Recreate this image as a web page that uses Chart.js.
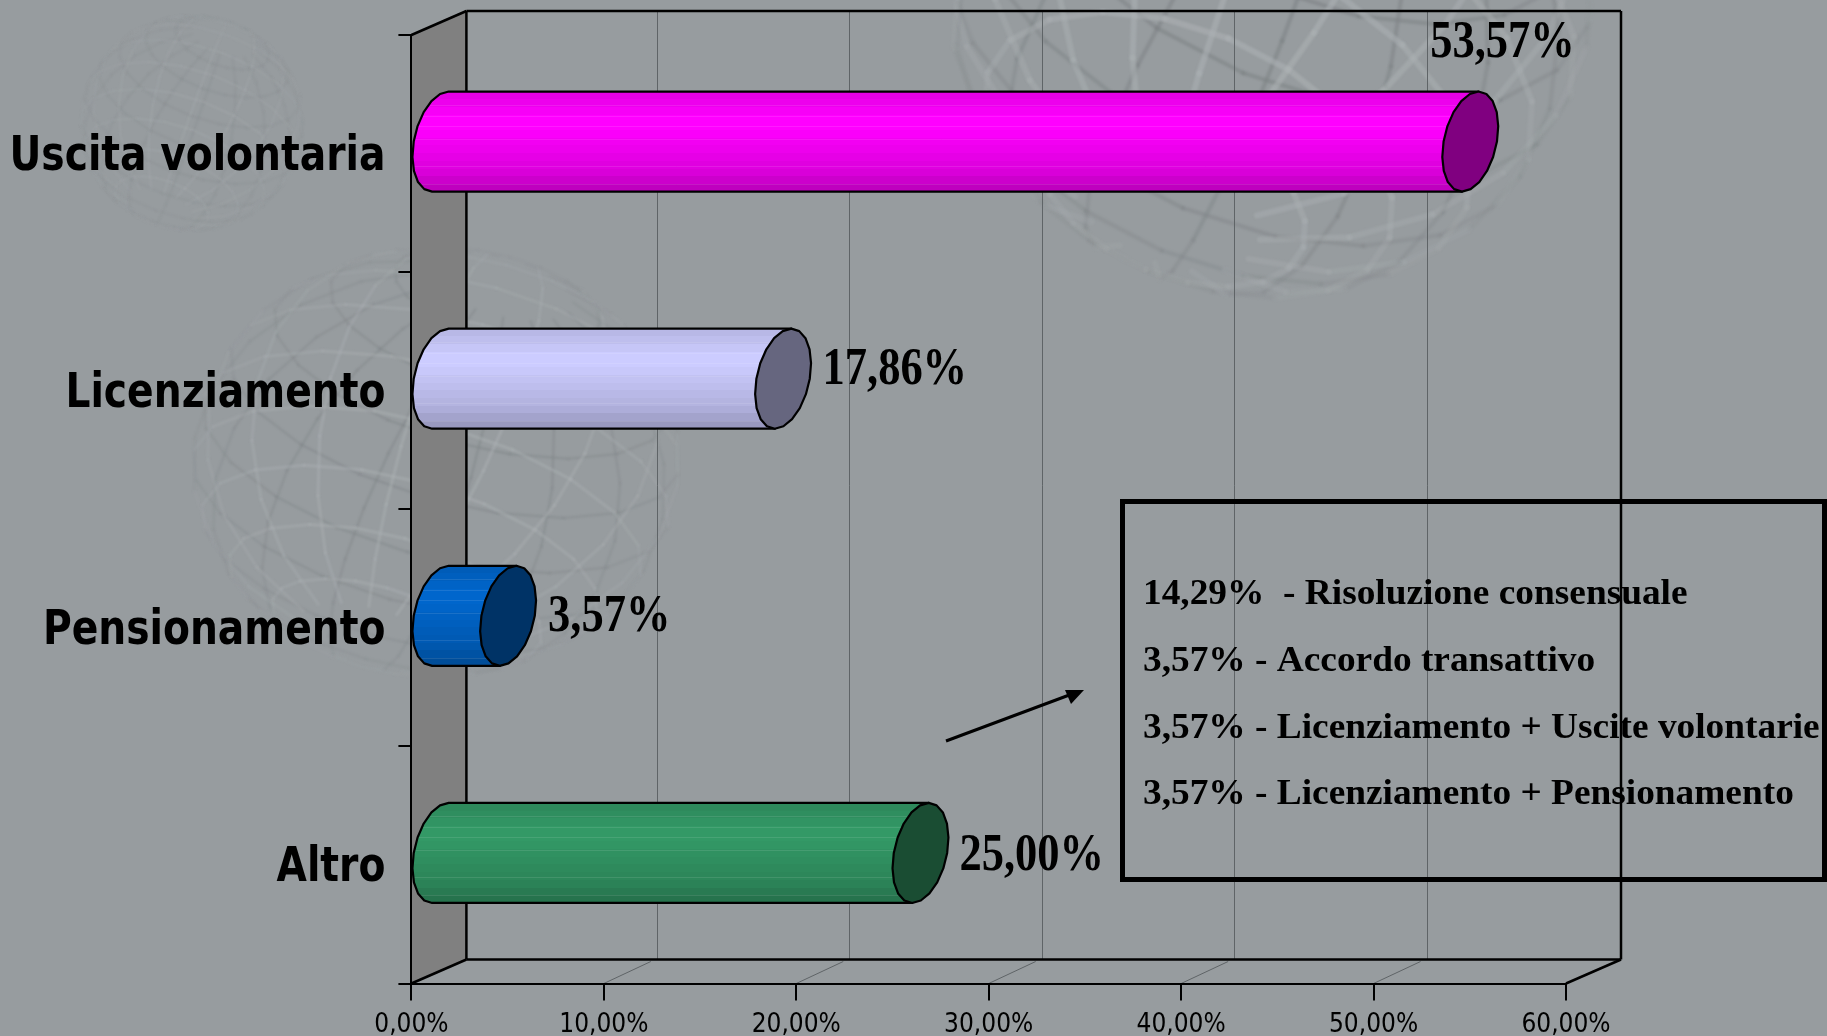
<!DOCTYPE html>
<html>
<head>
<meta charset="utf-8">
<title>Uscite</title>
<script src="https://cdn.jsdelivr.net/npm/chart.js@4/dist/chart.umd.min.js"></script>
<style>
  html, body { margin: 0; padding: 0; background: #979c9f; overflow: hidden; }
  canvas { display: block; }
</style>
</head>
<body>
<canvas id="canvas" width="1827" height="1036"></canvas>
<script>
"use strict";

var categories = ['Uscita volontaria', 'Licenziamento', 'Pensionamento', 'Altro'];
var values = [53.57, 17.86, 3.57, 25.00];
var bodyColors = ['#ff00ff', '#ccccff', '#0066cc', '#339966'];
var capColors = ['#800080', '#66667f', '#003366', '#1a4d33'];
var noteLines = [
  '14,29%  - Risoluzione consensuale',
  '3,57% - Accordo transattivo',
  '3,57% - Licenziamento + Uscite volontarie',
  '3,57% - Licenziamento + Pensionamento'
];

// label offset from the bar end (first one was moved by hand in the original)
var labelDx = [-12, 67.5, 68, 67];
var labelDy = [-85, 5, 15.5, 17.5];

// 3d box depth
var depthX = 55, depthY = 24;
var bands = [.9, .93, .97, 1, 1, .98, .95, .93, .9, .88, .85, .8, .75];
var shineLines = [.13, .24, .34, .47, .74, .92];

function shade(hex, m) {
  var n = parseInt(hex.slice(1), 16);
  return 'rgb(' + Math.round((n >> 16 & 255) * m) + ',' + Math.round((n >> 8 & 255) * m) + ',' + Math.round((n & 255) * m) + ')';
}

function line(ctx, x1, y1, x2, y2) {
  ctx.beginPath();
  ctx.moveTo(x1, y1);
  ctx.lineTo(x2, y2);
  ctx.stroke();
}

// faint wire globes of the slide background
function drawGlobe(ctx, cx, cy, rx, ry, tilt, spin, width, strength) {
  var rings = [];
  var i, k;
  for (i = -64; i <= 64; i += 16) {
    var ring = [];
    for (k = 0; k <= 360; k += 18) ring.push([i, k]);
    rings.push(ring);
  }
  for (k = 0; k < 360; k += 22.5) {
    var ring2 = [];
    for (i = -72; i <= 72; i += 16) ring2.push([i, k]);
    rings.push(ring2);
  }
  function project(lat, lon) {
    var la = lat * Math.PI / 180, lo = (lon + spin) * Math.PI / 180;
    var x = Math.cos(la) * Math.sin(lo), y = Math.sin(la), z = Math.cos(la) * Math.cos(lo);
    var c = Math.cos(tilt), s = Math.sin(tilt);
    var y2 = y * c - z * s, z2 = y * s + z * c;
    var x3 = x * Math.cos(tilt * .7) - y2 * Math.sin(tilt * .7);
    var y3 = x * Math.sin(tilt * .7) + y2 * Math.cos(tilt * .7);
    return { x: cx + rx * x3, y: cy + ry * y3, z: z2 };
  }
  ctx.save();
  ctx.filter = 'blur(0.8px)';
  ctx.lineCap = 'round';
  [-1, 1].forEach(function(side) {
    rings.forEach(function(ring) {
      for (var j = 1; j < ring.length; j++) {
        var a = project(ring[j - 1][0], ring[j - 1][1]);
        var b = project(ring[j][0], ring[j][1]);
        if ((a.z + b.z) * side < 0) continue;
        var edge = Math.abs(a.z + b.z) / 2;
        ctx.strokeStyle = side > 0 ? 'rgba(172,177,180,' + (.08 + edge * .45) * strength + ')' : 'rgba(125,130,133,' + (.1 + edge * .4) * strength + ')';
        ctx.lineWidth = side > 0 ? width : width * .7;
        line(ctx, a.x, a.y, b.x, b.y);
      }
    });
  });
  ctx.restore();
}

var backdrop = {
  id: 'backdrop',
  beforeDraw: function(chart) {
    var ctx = chart.ctx, area = chart.chartArea, xs = chart.scales.x;
    var l = area.left, r = area.right, t = area.top, b = area.bottom;

    ctx.save();
    ctx.fillStyle = '#979c9f';
    ctx.fillRect(0, 0, chart.width, chart.height);
    drawGlobe(ctx, 192, 123, 112, 108, .5, 20, 2, .6);
    drawGlobe(ctx, 436, 462, 244, 215, .45, 35, 3, 1);
    drawGlobe(ctx, 1270, -27, 325, 325, .6, 15, 6, 1.15);

    // side wall
    ctx.fillStyle = '#808080';
    ctx.beginPath();
    ctx.moveTo(l, t);
    ctx.lineTo(l + depthX, t - depthY);
    ctx.lineTo(l + depthX, b - depthY);
    ctx.lineTo(l, b);
    ctx.closePath();
    ctx.fill();

    // grid on back wall and floor
    ctx.strokeStyle = '#5f6467';
    ctx.lineWidth = 1;
    xs.ticks.forEach(function(tick, i) {
      if (i === 0 || i === xs.ticks.length - 1) return;
      var x = xs.getPixelForValue(tick.value);
      var gx = Math.round(x + 53) + .5;
      line(ctx, gx, t - depthY, gx, b - depthY);
      line(ctx, x, b, x + 47, b - depthY + 2);
    });

    // box outline
    ctx.strokeStyle = '#000';
    ctx.lineWidth = 2.5;
    line(ctx, l, t, l + depthX, t - depthY);
    line(ctx, l + depthX, t - depthY, r + depthX, t - depthY);
    line(ctx, l + depthX, t - depthY, l + depthX, b - depthY);
    line(ctx, r + depthX, t - depthY, r + depthX, b - depthY);
    line(ctx, l + depthX, b - depthY, r + depthX, b - depthY);
    line(ctx, l, b, l + depthX, b - depthY);
    line(ctx, r, b, r + depthX, b - depthY);
    ctx.restore();
  }
};

function capPoint(cx, cy, hw, hh, lean, a) {
  return [cx + hw * Math.cos(a) - lean * Math.sin(a), cy + hh * Math.sin(a)];
}

function drawCylinder(ctx, el, body, cap) {
  var cy = el.y - depthY / 2;
  var hh = el.height / 2;
  var hw = 26.7, lean = 8.3, off = 28;
  var x0 = el.base + off, x1 = el.x + off;
  var steps = 20, i, p;

  var grad = ctx.createLinearGradient(0, cy - hh, 0, cy + hh);
  bands.forEach(function(m, k) {
    grad.addColorStop(k / bands.length, shade(body, m));
    grad.addColorStop((k + 1) / bands.length, shade(body, m));
  });

  ctx.save();
  ctx.lineJoin = 'round';

  var outline = new Path2D();
  for (i = 0; i <= steps / 2; i++) {
    p = capPoint(x0, cy, hw, hh, lean, -Math.PI / 2 - i * 2 * Math.PI / steps);
    if (i === 0) outline.moveTo(p[0], p[1]); else outline.lineTo(p[0], p[1]);
  }
  p = capPoint(x1, cy, hw, hh, lean, Math.PI / 2);
  outline.lineTo(p[0], p[1]);
  p = capPoint(x1, cy, hw, hh, lean, -Math.PI / 2);
  outline.lineTo(p[0], p[1]);
  outline.closePath();
  ctx.fillStyle = grad;
  ctx.fill(outline);

  ctx.save();
  ctx.clip(outline);
  ctx.strokeStyle = 'rgba(255,255,255,.1)';
  ctx.lineWidth = 1;
  shineLines.forEach(function(f) {
    var y = Math.round(cy - hh + f * el.height) + .5;
    line(ctx, el.base, y, x1, y);
  });
  ctx.restore();
  ctx.lineWidth = 2.2;
  ctx.strokeStyle = '#000';
  ctx.stroke(outline);

  ctx.beginPath();
  for (i = 0; i < steps; i++) {
    p = capPoint(x1, cy, hw, hh, lean, i * 2 * Math.PI / steps - Math.PI / 2);
    if (i === 0) ctx.moveTo(p[0], p[1]); else ctx.lineTo(p[0], p[1]);
  }
  ctx.closePath();
  ctx.fillStyle = cap;
  ctx.fill();
  ctx.stroke();
  ctx.restore();
}

function squeezedText(ctx, text, x, y, sx) {
  ctx.save();
  ctx.translate(x, y);
  ctx.scale(sx, 1);
  ctx.fillText(text, 0, 0);
  ctx.restore();
}

var cylinders = {
  id: 'cylinders',
  afterDatasetsDraw: function(chart) {
    var ctx = chart.ctx;
    var meta = chart.getDatasetMeta(0);
    var ys = chart.scales.y;

    meta.data.forEach(function(el, i) {
      drawCylinder(ctx, el, bodyColors[i], capColors[i]);
    });

    ctx.save();
    ctx.fillStyle = '#000';
    ctx.textAlign = 'left';

    // category labels, squeezed like the original
    ctx.textBaseline = 'middle';
    ctx.font = 'bold 48px "DejaVu Sans Condensed"';
    ys.ticks.forEach(function(tick, i) {
      var txt = ys.getLabelForValue(tick.value);
      var sx = 0.908;
      var w = ctx.measureText(txt).width * sx;
      squeezedText(ctx, txt, ys.right - 26 - w, ys.getPixelForTick(i) + 4, sx);
    });

    ctx.textBaseline = 'alphabetic';
    ctx.font = 'bold 52px "Liberation Serif"';
    meta.data.forEach(function(el, i) {
      var txt = values[i].toFixed(2).replace('.', ',') + '%';
      squeezedText(ctx, txt, el.x + labelDx[i], el.y - depthY / 2 + labelDy[i], .855);
    });

    // note box
    ctx.strokeStyle = '#000';
    ctx.lineWidth = 5;
    ctx.strokeRect(1122.5, 501.5, 702, 378);
    ctx.font = 'bold 36.5px "Liberation Serif"';
    noteLines.forEach(function(txt, i) {
      squeezedText(ctx, txt, 1143, 604 + i * 66.8, 1.023);
    });

    // arrow to the box
    ctx.lineWidth = 3;
    line(ctx, 946, 741, 1072, 694);
    ctx.beginPath();
    ctx.moveTo(1084, 690);
    ctx.lineTo(1065, 690);
    ctx.lineTo(1071, 704);
    ctx.closePath();
    ctx.fill();
    ctx.restore();
  }
};

window.onload = function() {
  var ctx = document.getElementById('canvas').getContext('2d');
  window.myBar = new Chart(ctx, {
    type: 'bar',
    data: {
      labels: categories,
      datasets: [{
        label: 'Uscite',
        data: values,
        backgroundColor: 'rgba(0,0,0,0)',
        barPercentage: 0.422,
        categoryPercentage: 1
      }]
    },
    options: {
      indexAxis: 'y',
      responsive: false,
      animation: false,
      layout: { padding: { top: 35, right: 261, left: 0, bottom: 0 } },
      plugins: {
        legend: { display: false },
        title: { display: false },
        tooltip: { enabled: false }
      },
      scales: {
        x: {
          min: 0,
          max: 60,
          afterFit: function(scale) {
            scale.height = 52.5;
            scale.paddingLeft = 0;
            scale.paddingRight = 0;
          },
          border: { display: true, color: '#000', width: 2 },
          grid: { drawOnChartArea: false, drawTicks: true, tickLength: 17, color: '#000', lineWidth: 2 },
          ticks: {
            stepSize: 10,
            maxRotation: 0,
            padding: 9,
            color: '#000',
            font: { family: '"DejaVu Sans Condensed"', size: 26 },
            callback: function(v) { return v.toFixed(2).replace('.', ',') + '%'; }
          }
        },
        y: {
          afterFit: function(scale) {
            scale.width = 411.4;
            scale.paddingTop = 0;
            scale.paddingBottom = 0;
          },
          border: { display: true, color: '#000', width: 2 },
          grid: { offset: true, drawOnChartArea: false, drawTicks: true, tickLength: 13, color: '#000', lineWidth: 2 },
          ticks: { display: false }
        }
      }
    },
    plugins: [backdrop, cylinders]
  });
};
</script>
</body>
</html>
